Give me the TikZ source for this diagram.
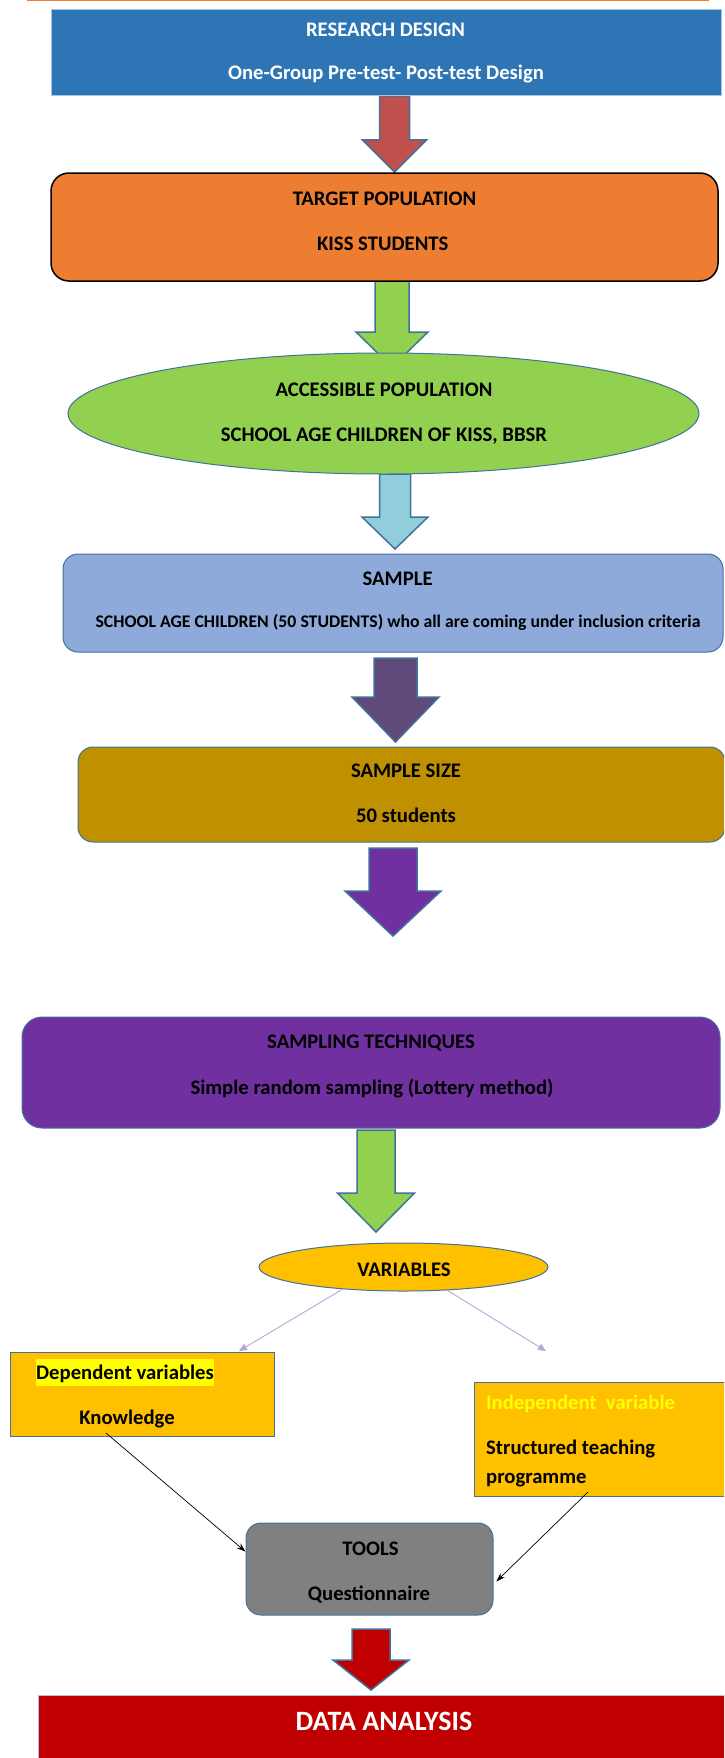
\documentclass[tikz,border=0pt]{standalone}
\usepackage{fontspec}
\setmainfont{Carlito}
\usetikzlibrary{arrows.meta,shapes.geometric}
\definecolor{cblue}{HTML}{2E75B6}
\definecolor{corange}{HTML}{ED7D31}
\definecolor{cgreen}{HTML}{92D050}
\definecolor{clblue}{HTML}{8EAADB}
\definecolor{cgold}{HTML}{BF9000}
\definecolor{cpurple}{HTML}{7030A0}
\definecolor{cdpurple}{HTML}{604A7B}
\definecolor{camber}{HTML}{FFC000}
\definecolor{cgray}{HTML}{808080}
\definecolor{cdred}{HTML}{C00000}
\definecolor{cred}{HTML}{C0504D}
\definecolor{caqua}{HTML}{92CDDC}
\definecolor{cedge}{HTML}{41719C}
\definecolor{cpale}{HTML}{A9C4E0}
\definecolor{clav}{HTML}{B4A7D6}
\definecolor{chl}{HTML}{FFFF00}
\newcommand{\blockarrow}[7]{%
  \filldraw[barrow, fill=#7] (#1-#5,#2) -- (#1+#5,#2) -- (#1+#5,#3) -- (#1+#6,#3) -- (#1,#4) -- (#1-#6,#3) -- (#1-#5,#3) -- cycle;}
\begin{document}
\begin{tikzpicture}[x=1pt,y=-1pt,
  barrow/.style={draw=cedge, line width=1.5pt, line join=miter},
  box/.style={draw=cedge, line width=1pt, inner sep=0pt},
  txt/.style={font=\fontsize{20.7}{24}\selectfont\bfseries, inner sep=0pt, anchor=base},
  conn/.style={black, line width=0.7pt, -{Stealth[length=9pt,width=6pt]}},
  lconn/.style={clav, line width=0.9pt, -{Triangle[length=8pt,width=7pt]}}]
\useasboundingbox (0,0) rectangle (724,1758);
\clip (0,0) rectangle (724,1758);
% top line
\draw[corange, line width=2pt] (27,0.5) -- (709,0.5);
% block arrows
\blockarrow{394.5}{96}{140}{172}{15}{32}{cred}
\blockarrow{392}{281}{332}{367}{17}{36}{cgreen}
\blockarrow{395}{474}{517}{549}{15.5}{33}{caqua}
\blockarrow{395.5}{658}{697}{742}{21.5}{43.5}{cdpurple}
\blockarrow{393}{848}{891}{936}{24}{48}{cpurple}
\blockarrow{376}{1130}{1193}{1232}{19}{38.5}{cgreen}
\blockarrow{371}{1629}{1660}{1690}{19}{38}{cdred}
% boxes
\node[box, draw=cpale, fill=cblue, minimum width=670pt, minimum height=86pt] (design) at (386,53) {};
\node[box, draw=black, line width=1.5pt, fill=corange, rounded corners=18pt, minimum width=667pt, minimum height=108pt] (target) at (384.5,227) {};
\node[box, ellipse, fill=cgreen, minimum width=631pt, minimum height=121pt] (access) at (383.5,413.5) {};
\node[box, fill=clblue, rounded corners=15pt, minimum width=660pt, minimum height=98pt] (sample) at (393,603) {};
\node[box, fill=cgold, rounded corners=15pt, minimum width=647pt, minimum height=95pt] (size) at (401.5,794.5) {};
\node[box, fill=cpurple, rounded corners=20pt, minimum width=698pt, minimum height=111pt] (tech) at (371,1072.5) {};
\node[box, ellipse, fill=camber, minimum width=289pt, minimum height=48pt] (var) at (403.5,1267) {};
\node[box, fill=camber, minimum width=264pt, minimum height=84pt] (dep) at (142,1394) {};
\node[box, fill=camber, minimum width=252pt, minimum height=114pt] (indep) at (600,1439) {};
\node[box, fill=cgray, rounded corners=15pt, minimum width=247pt, minimum height=92pt] (tools) at (369.5,1569) {};
\node[box, draw=cpale, fill=cdred, minimum width=688pt, minimum height=65pt] (data) at (382,1727.5) {};
% texts
\node[txt, white] (t1a) at (385.5,36.7) {RESEARCH DESIGN};
\node[txt, white] (t1b) at (386,80) {One-Group Pre-test- Post-test Design};
\node[txt] (t2a) at (384.5,205.7) {TARGET POPULATION};
\node[txt] (t2b) at (382.7,250) {KISS STUDENTS};
\node[txt] (t3a) at (384,396.7) {ACCESSIBLE POPULATION};
\node[txt] (t3b) at (384,441) {SCHOOL AGE CHILDREN OF KISS, BBSR};
\node[txt] (t4a) at (397.6,585) {SAMPLE};
\node[txt, font=\fontsize{17.75}{21}\selectfont\bfseries] (t4b) at (398,627.7) {SCHOOL AGE CHILDREN (50 STUDENTS) who all are coming under inclusion criteria};
\node[txt] (t5a) at (406,777.7) {SAMPLE SIZE};
\node[txt] (t5b) at (406,822.7) {50 students};
\node[txt] (t6a) at (371,1048.3) {SAMPLING TECHNIQUES};
\node[txt] (t6b) at (372,1094) {Simple random sampling (Lottery method)};
\node[txt] (t7) at (404,1276.7) {VARIABLES};
\node[txt, anchor=base west, fill=chl, text height=20pt, text depth=6.4pt] (t8a) at (36,1379.3) {Dependent variables};
\node[txt] (t8b) at (127,1424.3) {Knowledge};
\node[txt, anchor=base west, chl] (t9a) at (486,1409) {Independent\ \ variable};
\node[txt, anchor=base west] (t9b) at (486,1454) {Structured teaching};
\node[txt, anchor=base west] (t9c) at (486,1483) {programme};
\node[txt] (t10a) at (370.5,1555.7) {TOOLS};
\node[txt] (t10b) at (369,1600.7) {Questionnaire};
\node[txt, white, font=\fontsize{28}{32}\selectfont\bfseries] (t11) at (384,1730) {DATA ANALYSIS};
% connectors
\coordinate (dvend) at (239,1351);
\coordinate (ivend) at (546,1351);
\draw[lconn] (var.200) -- (dvend);
\draw[lconn] (var.-28.5) -- (ivend);
\coordinate (kstart) at (106,1433);
\coordinate (pstart) at (588,1492);
\draw[conn] (kstart) -- (tools.172);
\draw[conn, shorten >=4pt] (pstart) -- (tools.-7);
\end{tikzpicture}
\end{document}
